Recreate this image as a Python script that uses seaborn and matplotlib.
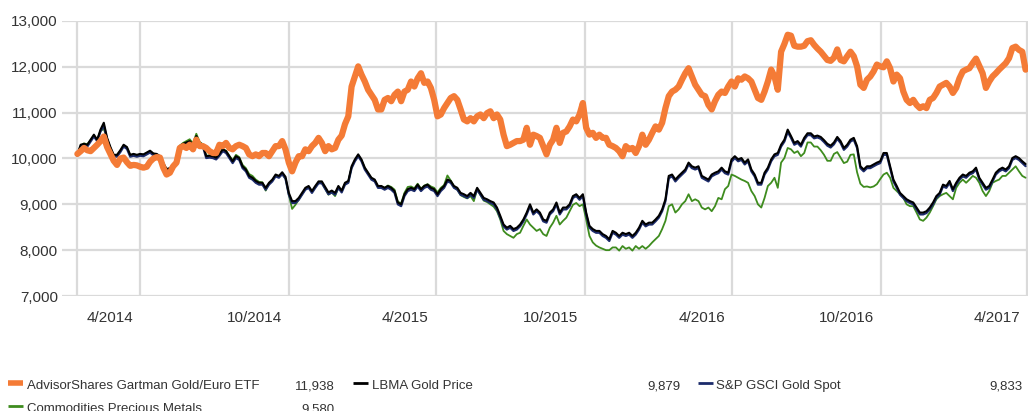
import numpy as np
import pandas as pd
import seaborn as sns
import matplotlib.pyplot as plt
from matplotlib.lines import Line2D
from matplotlib.transforms import ScaledTranslation

# growth of 10,000, one point every ~4 days
start_date = "2014-02-11"
end_date = "2017-04-28"

gartman_etf = [
    10100, 10160, 10230, 10180, 10160, 10230, 10300, 10380, 10480, 10250, 10100, 9950, 9860, 10000,
    10020, 9920, 9840, 9860, 9850, 9820, 9800, 9820, 9930, 10000, 10030, 10020, 9800, 9650, 9690,
    9830, 9910, 10230, 10270, 10230, 10300, 10200, 10410, 10270, 10270,
    10230, 10160, 10120, 10120, 10300, 10270, 10340, 10230, 10200, 10270, 10300, 10270, 10230, 10090,
    10050, 10090, 10050, 10120, 10120, 10050, 10160, 10270, 10270, 10380, 10200, 9910, 9720, 9910,
    10050, 10050, 10200, 10160, 10270, 10340, 10450, 10340, 10160, 10270, 10200, 10230, 10410,
    10500, 10750, 10920, 11570, 11790, 12010, 11830, 11680, 11500, 11390, 11280, 11070, 11070, 11280,
    11320, 11250, 11390, 11460, 11250, 11460, 11500, 11680, 11570, 11750, 11860, 11650, 11680, 11540,
    11280, 10920, 10960, 11100, 11210, 11320, 11360, 11280, 11070, 10850, 10810, 10880, 10810,
    10920, 10960, 10880, 10990, 11030, 10880, 10960, 10850, 10520, 10270, 10300, 10340, 10380, 10380,
    10410, 10670, 10300, 10520, 10490, 10450, 10270, 10090, 10300, 10410, 10670, 10340, 10560, 10590,
    10700, 10850, 10810, 10960, 11210, 10670, 10520, 10560, 10450, 10520, 10450, 10450, 10300,
    10270, 10230, 10160, 10050, 10270, 10200, 10230, 10120, 10270, 10520, 10300, 10410, 10560, 10700,
    10630, 10780, 11100, 11360, 11460, 11500, 11570, 11720, 11860, 11970, 11790, 11610, 11500, 11390,
    11360, 11170, 11070, 11250, 11390, 11460, 11430, 11570, 11680, 11570, 11750, 11720, 11790,
    11750, 11680, 11500, 11320, 11280, 11460, 11680, 11940, 11790, 11500, 12330, 12500, 12700, 12680,
    12460, 12440, 12440, 12460, 12560, 12580, 12480, 12400, 12330, 12240, 12150, 12130, 12200, 12380,
    12150, 12120, 12230, 12330, 12230, 12010, 11610, 11540, 11720, 11790, 11900, 12050, 12010, 11990,
    12120, 11970, 11680, 11830, 11750, 11460, 11280, 11210, 11280, 11170, 11100, 11140, 11100, 11280,
    11320, 11430, 11570, 11610, 11650, 11570, 11430, 11540, 11750, 11900, 11940, 11970, 12080, 12180,
    12020, 11860, 11540, 11680, 11790, 11860, 11940, 12010, 12080, 12190, 12410, 12440, 12370, 12330,
    11938,
]

lbma_gold = [
    10090, 10300, 10320, 10300, 10410, 10520, 10410, 10630, 10780, 10450, 10250, 10080, 10080, 10180,
    10300, 10250, 10080, 10100, 10080, 10100, 10090, 10130, 10170, 10110, 10100, 10050, 9900, 9770,
    9790, 9870, 9950, 10270, 10320, 10350, 10380, 10300, 10490, 10340, 10300,
    10050, 10060, 10050, 10020, 10100, 10200, 10160, 10050, 9940, 10050, 10010, 9830, 9760, 9620,
    9580, 9510, 9470, 9470, 9360, 9470, 9540, 9650, 9620, 9700, 9600, 9250, 9070, 9070, 9140, 9250,
    9360, 9400, 9290, 9400, 9500, 9500, 9380, 9260, 9300, 9250, 9400,
    9300, 9470, 9510, 9830, 9980, 10090, 9980, 9800, 9690, 9580, 9540, 9400, 9400, 9360, 9400, 9360,
    9290, 9040, 9000, 9220, 9330, 9360, 9330, 9430, 9330, 9400, 9430, 9360, 9330, 9220, 9330, 9400,
    9540, 9510, 9400, 9360, 9250, 9220, 9180, 9250, 9180,
    9360, 9250, 9140, 9110, 9070, 9040, 8930, 8750, 8560, 8490, 8530, 8460, 8490, 8560, 8670, 8820,
    9000, 8820, 8890, 8820, 8670, 8640, 8820, 8890, 9040, 8820, 8930, 8930, 9000, 9180, 9220, 9140,
    9220, 8820, 8530, 8460, 8420, 8420, 8350, 8310, 8240,
    8420, 8380, 8310, 8380, 8350, 8380, 8310, 8380, 8490, 8640, 8560, 8600, 8600, 8670, 8750, 8890,
    9110, 9620, 9650, 9540, 9620, 9690, 9760, 9910, 9830, 9800, 9830, 9620, 9580, 9540, 9650, 9690,
    9720, 9800, 9720, 9690, 9980, 10050, 9980, 10010, 9910,
    9980, 9760, 9650, 9470, 9470, 9690, 9800, 9980, 10090, 10120, 10300, 10410, 10630, 10490, 10340,
    10380, 10300, 10450, 10550, 10550, 10480, 10500, 10470, 10400, 10320, 10280, 10350, 10470, 10380,
    10230, 10300, 10410, 10450, 10270, 9830, 9760, 9830, 9830, 9870, 9910, 9940, 10120,
    10120, 9830, 9540, 9400, 9250, 9180, 9110, 9070, 9040, 8930, 8820, 8820, 8850, 8930, 9040, 9180,
    9250, 9430, 9400, 9510, 9330, 9470, 9580, 9650, 9620, 9690, 9720, 9800, 9580, 9470, 9360, 9400,
    9540, 9690, 9760, 9800, 9760, 9830, 10010, 10050, 10010, 9940, 9879,
]

gsci_gold_spot = [
    10060, 10260, 10290, 10260, 10370, 10480, 10380, 10590, 10720, 10410, 10210, 10050, 10040, 10140,
    10260, 10210, 10040, 10060, 10040, 10060, 10050, 10090, 10130, 10070, 10060, 10010, 9860, 9740,
    9750, 9830, 9910, 10230, 10280, 10310, 10340, 10260, 10450, 10300, 10260,
    10010, 10020, 10010, 9980, 10060, 10160, 10120, 10010, 9900, 10010, 9970, 9790, 9720, 9580, 9540,
    9470, 9430, 9430, 9320, 9430, 9500, 9610, 9580, 9660, 9560, 9210, 9030, 9030, 9100, 9210, 9320,
    9360, 9250, 9360, 9460, 9460, 9340, 9220, 9260, 9210, 9360,
    9260, 9430, 9470, 9790, 9940, 10050, 9940, 9760, 9650, 9540, 9500, 9360, 9360, 9320, 9360, 9320,
    9250, 9000, 8960, 9180, 9290, 9320, 9290, 9390, 9290, 9360, 9390, 9320, 9290, 9180, 9290, 9360,
    9500, 9470, 9360, 9320, 9210, 9180, 9140, 9210, 9140,
    9320, 9210, 9100, 9070, 9030, 9000, 8890, 8710, 8520, 8450, 8490, 8420, 8450, 8520, 8630, 8780,
    8960, 8780, 8850, 8780, 8630, 8600, 8780, 8850, 9000, 8780, 8890, 8890, 8960, 9140, 9180, 9100,
    9180, 8780, 8490, 8420, 8380, 8380, 8310, 8270, 8200,
    8380, 8340, 8270, 8340, 8310, 8340, 8270, 8340, 8450, 8600, 8520, 8560, 8560, 8630, 8710, 8850,
    9070, 9570, 9610, 9500, 9580, 9650, 9720, 9870, 9790, 9760, 9790, 9580, 9540, 9500, 9610, 9650,
    9680, 9760, 9680, 9650, 9930, 10010, 9940, 9970, 9870,
    9940, 9720, 9610, 9430, 9430, 9650, 9760, 9940, 10050, 10080, 10260, 10370, 10580, 10450, 10300,
    10340, 10260, 10410, 10510, 10510, 10440, 10460, 10430, 10360, 10280, 10240, 10310, 10430, 10340,
    10190, 10260, 10370, 10410, 10230, 9790, 9720, 9790, 9790, 9830, 9870, 9900, 10080,
    10080, 9790, 9500, 9360, 9210, 9140, 9070, 9030, 9000, 8890, 8780, 8780, 8810, 8890, 9000, 9140,
    9210, 9390, 9360, 9470, 9290, 9430, 9540, 9610, 9580, 9650, 9680, 9760, 9540, 9430, 9320, 9360,
    9500, 9650, 9720, 9760, 9720, 9790, 9970, 10010, 9970, 9900, 9833,
]

precious_metals = [
    10080, 10280, 10330, 10310, 10400, 10500, 10400, 10600, 10650, 10430, 10230, 10070, 10070, 10170,
    10280, 10240, 10070, 10090, 10070, 10090, 10080, 10120, 10160, 10100, 10090, 10040, 9890, 9760,
    9780, 9860, 9940, 10280, 10340, 10380, 10420, 10330, 10540, 10360, 10310,
    10060, 10070, 10060, 10030, 10110, 10200, 10170, 10060, 9960, 10080, 10030, 9860, 9790, 9660,
    9620, 9540, 9490, 9480, 9300, 9450, 9520, 9620, 9600, 9660, 9560, 9210, 8900, 8990, 9100, 9220,
    9330, 9380, 9270, 9370, 9480, 9470, 9340, 9210, 9260, 9180, 9360,
    9280, 9450, 9490, 9800, 9960, 10060, 9960, 9790, 9680, 9570, 9520, 9380, 9390, 9360, 9410, 9380,
    9320, 9060, 9020, 9250, 9380, 9390, 9350, 9450, 9340, 9410, 9440, 9390, 9360, 9260, 9360, 9420,
    9630, 9520, 9380, 9320, 9200, 9160, 9130, 9180, 9070,
    9330, 9200, 9080, 9050, 9000, 8950, 8850, 8670, 8420, 8350, 8310, 8270, 8350, 8380, 8530, 8670,
    8560, 8490, 8420, 8460, 8350, 8310, 8490, 8600, 8750, 8560, 8640, 8710, 8850, 8990, 9030, 8960,
    9000, 8670, 8310, 8170, 8100, 8060, 8030, 8000, 8000,
    8060, 8060, 7990, 8090, 8030, 8060, 7990, 8090, 8030, 8090, 8030, 8090, 8170, 8240, 8310, 8460,
    8640, 8960, 9000, 8820, 8890, 9000, 9070, 9220, 9070, 9110, 9070, 8930, 8890, 8930, 8850, 8960,
    9140, 9110, 9330, 9400, 9650, 9620, 9580, 9540, 9510,
    9470, 9290, 9180, 9000, 8930, 9140, 9400, 9470, 9580, 9360, 9910, 10010, 10230, 10200, 10120,
    10160, 10050, 10120, 10350, 10350, 10260, 10260, 10180, 10080, 9950, 9950, 10100, 10140, 10020,
    9900, 9930, 10080, 10090, 9700, 9450, 9380, 9390, 9370, 9390, 9440, 9550, 9650,
    9690, 9580, 9360, 9290, 9220, 9140, 9000, 8960, 8960, 8820, 8670, 8640, 8710, 8820, 8960, 9110,
    9180, 9220, 9250, 9180, 9110, 9360, 9470, 9540, 9470, 9540, 9620, 9580, 9470, 9290, 9180, 9290,
    9470, 9510, 9540, 9620, 9620, 9690, 9760, 9830, 9720, 9620, 9580,
]

names = ["AdvisorShares Gartman Gold/Euro ETF", "LBMA Gold Price",
         "S&P GSCI Gold Spot", "Commodities Precious Metals"]
end_values = ["11,938", "9,879", "9,833", "9,580"]
colors = ["#F47B36", "#000000", "#1C2B6B", "#3E8C1E"]

grid_dates = ["2014-02-11", "2014-04-30", "2014-10-31", "2015-04-30",
              "2015-10-31", "2016-04-30", "2016-10-31", "2017-04-30"]
grid_labels = ["", "4/2014", "10/2014", "4/2015", "10/2015", "4/2016", "10/2016", "4/2017"]

sns.set_style("white")
plt.rcParams["font.family"] = ["Liberation Sans", "DejaVu Sans"]
txt_color = "#333333"
grid_color = "#dadada"

fig = plt.figure(figsize=(10.28, 4.11), dpi=100)
ax = fig.add_axes([62 / 1028, 1 - 296 / 411, (1028 - 62) / 1028, (296 - 21) / 411])


def frame(vals):
    d = pd.date_range(start_date, end_date, periods=len(vals))
    return pd.DataFrame({"date": d, "value": vals})


# back to front: green, navy, black, then the thick orange line on top
sns.lineplot(data=frame(precious_metals), x="date", y="value", color=colors[3], lw=1.3, ax=ax)
sns.lineplot(data=frame(gsci_gold_spot), x="date", y="value", color=colors[2], lw=1.6, ax=ax)
sns.lineplot(data=frame(lbma_gold), x="date", y="value", color=colors[1], lw=1.5, ax=ax)
sns.lineplot(data=frame(gartman_etf), x="date", y="value", color=colors[0], lw=4.5, ax=ax)

ax.set_xlim(pd.Timestamp("2014-01-23"), pd.Timestamp("2017-05-01"))
ax.set_ylim(7000, 13000)
ax.set_yticks(range(7000, 13001, 1000))
ax.set_yticklabels([f"{v:,}" for v in range(7000, 13001, 1000)])
ax.set_xticks(pd.to_datetime(grid_dates))
ax.set_xticklabels(grid_labels)
ax.set_xlabel("")
ax.set_ylabel("")
ax.grid(True, color=grid_color, lw=1.6)
ax.set_axisbelow(True)
for s in ax.spines.values():
    s.set_visible(False)
ax.tick_params(axis="y", length=0, pad=3, labelsize=11, labelcolor=txt_color)
ax.tick_params(axis="x", length=10, width=1.6, color=grid_color, pad=1,
               labelsize=11, labelcolor=txt_color)
shift = ScaledTranslation(-5 / 72, 0, fig.dpi_scale_trans)
for lab in ax.get_xticklabels():
    lab.set_horizontalalignment("right")
    lab.set_transform(lab.get_transform() + shift)

# legend table under the chart
W, H = 1028, 411
rows = [(386, 8, 27, 335), (386, 353, 372, 680), (386, 698, 716, 1022), (409, 8, 27, 335)]
for i, (yy, sx, tx, vx) in enumerate(rows):
    fy = 1 - yy / H
    lw = 4 if i == 0 else 2
    fig.add_artist(Line2D([sx / W, (sx + 15) / W], [fy + 3 / H, fy + 3 / H],
                          color=colors[i], lw=lw, solid_capstyle="butt"))
    fig.text(tx / W, fy, names[i], fontsize=9.5, color=txt_color, va="center", ha="left")
    fig.text(vx / W, fy, end_values[i], fontsize=9.5, color=txt_color, va="center", ha="right")

fig.savefig("out.png", dpi=100)
